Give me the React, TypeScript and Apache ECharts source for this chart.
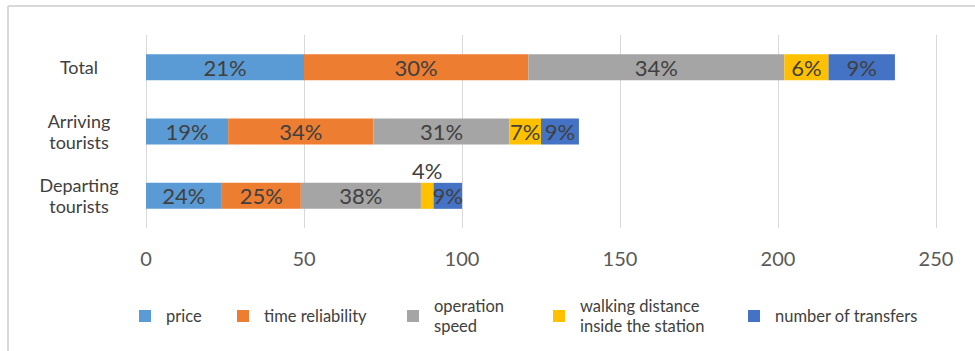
import React, { useEffect, useRef } from "react";
import * as echarts from "echarts";

// Rows of the chart, top to bottom
const categories = ["Total", "Arriving\ntourists", "Departing\ntourists"];

// Legend / series names
const seriesNames = [
  "price",
  "time reliability",
  "operation\nspeed",
  "walking distance\ninside the station",
  "number of transfers",
];

// Counts per factor, one value per row (Total, Arriving, Departing)
const price = [50, 26, 24];
const timeReliability = [71, 46, 25];
const operationSpeed = [81, 43, 38];
const walkingDistance = [14, 10, 4];
const numberOfTransfers = [21, 12, 9];

const xTicks = { min: 0, max: 250, interval: 50 };

const colors = ["#5B9BD5", "#ED7D31", "#A5A5A5", "#FFC000", "#4472C4"];

const FONT = "Lato, 'Open Sans', sans-serif";

export default function App() {
  const ref = useRef<HTMLDivElement>(null);

  useEffect(() => {
    document.body.style.margin = "0";
    if (!ref.current) return;
    const chart = echarts.init(ref.current, null, { renderer: "svg" });

    const allSeries = [price, timeReliability, operationSpeed, walkingDistance, numberOfTransfers];
    const rowTotals = categories.map((_, r) =>
      allSeries.reduce((s, arr) => s + arr[r], 0)
    );
    const pct = (v: number, r: number) => `${Math.round((v / rowTotals[r]) * 100)}%`;

    const series = allSeries.map((arr, si) => ({
      type: "bar",
      name: seriesNames[si],
      stack: "all",
      barWidth: 26,
      itemStyle: { color: colors[si] },
      label: {
        show: true,
        position: "inside",
        color: "#404040",
        fontSize: 22,
        fontFamily: FONT,
        formatter: (p: any) => pct(p.value, p.dataIndex),
      },
      data: arr.map((v, r) => {
        // the thin walking-distance segment of the last row gets its label above the bar
        if (si === 3 && r === 2) {
          return { value: v, label: { position: "top", distance: 1 } };
        }
        return v;
      }),
    }));

    const legendLeft = [139, 237, 407, 553, 748];
    const legends = seriesNames.map((n, i) => {
      const twoLines = n.includes("\n");
      return {
        data: [n],
        left: legendLeft[i],
        top: twoLines ? 296 : 306,
        padding: 0,
        icon: "rect",
        itemWidth: 12,
        itemHeight: 12,
        selectedMode: false,
        textStyle: {
          fontSize: 16.5,
          fontFamily: FONT,
          color: "#404040",
          lineHeight: 20,
          padding: [0, 0, 0, 10],
        },
      };
    });

    chart.setOption({
      animation: false,
      color: colors,
      grid: { left: 146, right: 39, top: 35, bottom: 123, containLabel: false },
      xAxis: {
        type: "value",
        min: xTicks.min,
        max: xTicks.max,
        interval: xTicks.interval,
        axisLine: { show: false },
        axisTick: { show: false },
        splitLine: { lineStyle: { color: "#d9d9d9", width: 1 } },
        axisLabel: { fontSize: 20, fontFamily: FONT, color: "#595959", margin: 20 },
      },
      yAxis: {
        type: "category",
        data: categories,
        inverse: true,
        axisLine: { show: false },
        axisTick: { show: false },
        splitLine: { show: false },
        axisLabel: {
          fontSize: 18,
          fontFamily: FONT,
          color: "#404040",
          align: "center",
          margin: 67,
          lineHeight: 21,
        },
      },
      legend: legends,
      series,
      graphic: [
        {
          type: "line",
          shape: { x1: 8, y1: 6, x2: 975, y2: 6 },
          style: { stroke: "#d9d9d9", lineWidth: 2 },
        },
        {
          type: "line",
          shape: { x1: 8, y1: 6, x2: 8, y2: 351 },
          style: { stroke: "#d9d9d9", lineWidth: 2 },
        },
      ],
    });

    return () => chart.dispose();
  }, []);

  return <div ref={ref} style={{ width: 975, height: 351 }} />;
}
